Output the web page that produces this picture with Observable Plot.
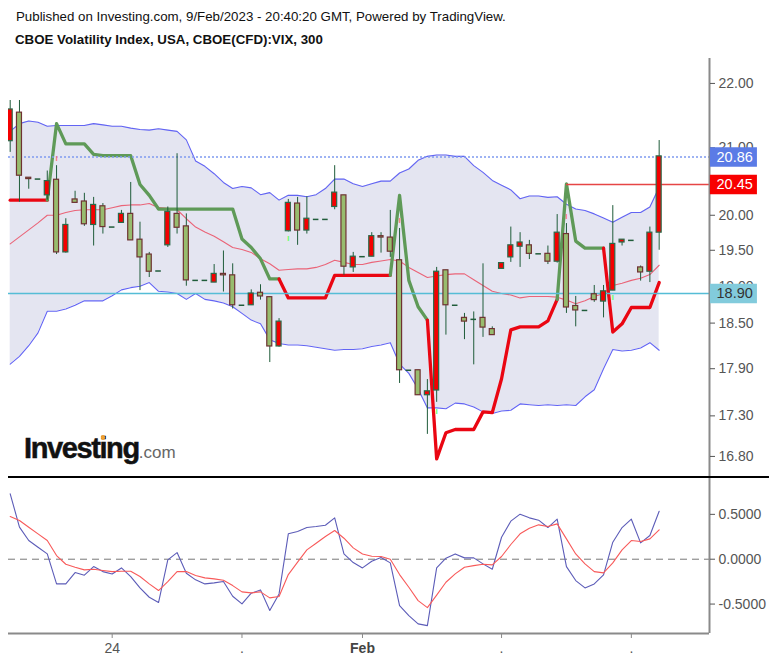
<!DOCTYPE html>
<html><head><meta charset="utf-8">
<script src="https://cdn.jsdelivr.net/npm/d3@7"></script>
<script src="https://cdn.jsdelivr.net/npm/@observablehq/plot@0.6"></script>
<style>
html,body{margin:0;padding:0;background:#fff;overflow:hidden;width:776px;height:662px;font-family:"Liberation Sans",Arial,sans-serif}
#page{position:relative;width:776px;height:662px}
#h1,#h2{position:absolute;left:16px;white-space:nowrap;color:#111}
#h1{top:9px;font-size:13.3px}
#h2{top:32px;left:15px;font-size:13.3px;font-weight:bold}
#main,#osc{position:absolute;left:0}
#main{top:58px}#osc{top:470px}
#logo{position:absolute;left:24px;top:430px;white-space:nowrap;line-height:36px;color:#111}
#logo b{font-size:29px;letter-spacing:-1.4px;-webkit-text-stroke:.5px #111}
#logo span{font-size:17px;color:#666;margin-left:0}
#tittle{position:absolute;left:101px;top:435px;width:4px;height:5px;background:#f0a030;border-radius:2px}
svg{display:block}
</style></head><body>
<div id="page">
<div id="h1">Published on Investing.com, 9/Feb/2023 - 20:40:20 GMT, Powered by TradingView.</div>
<div id="h2">CBOE Volatility Index, USA, CBOE(CFD):VIX, 300</div>
<div id="main"></div><div id="osc"></div>
<div id="logo"><b>Investing</b><span>.com</span></div><div id="tittle"></div>
</div>
<script>
const opens=[21.10,21.54,20.55,20.53,20.29,20.52,19.47,20.23,20.20,19.86,20.13,19.83,19.89,20.02,19.65,19.44,19.21,19.57,20.02,19.84,19.08,19.08,19.05,19.17,19.15,18.74,18.74,18.91,18.85,18.19,19.77,20.17,19.78,19.94,19.94,20.12,20.29,19.26,19.41,19.41,19.70,19.68,19.36,17.88,17.88,17.56,17.62,19.22,18.74,18.57,18.55,18.57,18.42,19.24,19.40,19.55,19.57,19.45,19.45,19.34,19.73,18.73,18.67,18.89,18.79,18.94,19.61,19.64,19.26,19.20,19.75];
const closes=[21.59,20.58,20.53,20.53,20.50,19.47,19.86,20.18,19.87,20.15,19.83,19.83,20.02,19.64,19.40,19.20,19.21,20.05,19.82,19.08,19.08,19.08,19.17,19.15,18.74,18.74,18.90,18.86,18.19,18.52,20.18,19.78,19.95,19.94,19.94,20.33,19.27,19.41,19.41,19.70,19.68,19.48,17.88,17.88,17.56,17.61,19.20,18.74,18.74,18.52,18.55,18.44,18.34,19.32,19.57,19.61,19.45,19.45,19.34,19.75,18.71,18.67,18.67,18.81,18.93,19.59,19.65,19.64,19.19,19.75,20.87];
const highs=[21.73,21.73,20.55,20.53,20.65,20.73,19.95,20.35,20.32,20.26,20.17,19.83,20.07,20.48,19.90,19.47,19.21,20.12,20.91,20.02,19.08,19.08,19.30,19.49,19.31,18.74,18.95,19.02,18.85,18.56,20.23,20.26,20.27,19.94,19.94,20.73,20.29,19.47,19.41,19.75,19.75,20.07,19.81,17.88,17.88,17.76,19.26,19.22,18.74,18.63,18.65,19.31,18.45,19.32,19.83,19.75,19.64,19.45,19.56,20.01,19.88,18.86,18.67,19.01,19.01,20.14,19.65,19.64,19.28,19.83,21.11];
const lows=[20.93,20.19,20.38,20.53,20.22,19.44,19.46,20.18,19.84,19.56,19.73,19.83,19.89,19.64,18.94,19.12,19.21,19.54,19.73,19.00,19.08,19.08,19.05,18.92,18.69,18.74,18.74,18.81,17.98,18.18,19.76,19.57,19.73,19.94,19.94,20.08,19.15,19.19,19.41,19.41,19.46,19.40,17.71,17.88,17.56,17.07,17.47,18.34,18.74,18.28,17.95,18.31,18.34,19.24,19.33,19.26,19.37,19.45,19.30,19.32,18.63,18.45,18.67,18.78,18.57,18.94,19.56,19.64,19.07,19.05,19.50];
const bandUpper=[21.25,21.37,21.41,21.39,21.33,21.34,21.34,21.34,21.34,21.37,21.35,21.33,21.33,21.30,21.28,21.27,21.29,21.27,21.25,21.12,20.80,20.72,20.61,20.48,20.39,20.42,20.40,20.30,20.33,20.22,20.29,20.29,20.27,20.30,20.39,20.53,20.53,20.46,20.42,20.46,20.50,20.50,20.62,20.68,20.81,20.87,20.89,20.89,20.87,20.87,20.73,20.63,20.51,20.44,20.37,20.24,20.28,20.28,20.26,20.27,20.16,20.09,20.07,20.02,19.96,19.90,19.97,20.04,20.04,20.12,20.41];
const bandBasis=[19.59,19.69,19.79,19.89,20.00,20.00,20.04,20.07,20.08,20.08,20.08,20.11,20.14,20.15,20.15,20.17,20.11,20.10,20.08,19.95,19.83,19.76,19.70,19.62,19.54,19.51,19.47,19.38,19.31,19.22,19.23,19.24,19.24,19.26,19.30,19.36,19.33,19.30,19.30,19.33,19.35,19.37,19.35,19.26,19.19,19.12,19.14,19.16,19.17,19.17,19.09,19.01,18.93,18.90,18.88,18.84,18.86,18.86,18.86,18.85,18.81,18.76,18.80,18.86,18.90,19.01,19.04,19.08,19.11,19.16,19.29];
const bandLower=[17.96,18.06,18.20,18.37,18.66,18.66,18.69,18.74,18.80,18.80,18.80,18.87,18.95,18.98,19.00,19.05,18.93,18.92,18.90,18.82,18.90,18.82,18.80,18.77,18.72,18.63,18.54,18.49,18.28,18.23,18.21,18.21,18.20,18.18,18.16,18.14,18.15,18.15,18.16,18.19,18.21,18.24,17.96,17.84,17.64,17.40,17.40,17.39,17.46,17.45,17.41,17.35,17.33,17.36,17.37,17.45,17.44,17.43,17.44,17.43,17.44,17.43,17.54,17.63,17.90,18.15,18.13,18.14,18.17,18.24,18.14];
const trend=[20.22,20.22,20.22,20.22,20.22,21.37,21.06,21.06,21.06,20.90,20.88,20.88,20.88,20.88,20.45,20.29,20.09,20.09,20.09,20.09,20.09,20.09,20.09,20.09,20.09,19.66,19.54,19.38,19.10,19.10,18.84,18.84,18.84,18.84,18.84,19.15,19.15,19.15,19.15,19.15,19.15,19.15,20.29,19.08,18.72,18.54,16.77,17.09,17.13,17.13,17.13,17.35,17.34,17.77,18.41,18.45,18.45,18.45,18.53,18.82,20.46,19.63,19.53,19.53,19.53,18.38,18.49,18.71,18.71,18.71,19.05];
const trendRuns=[[0,"#ea0612"],[4,"#5f9a58"],[29,"#ea0612"],[41,"#5f9a58"],[45,"#ea0612"],[59,"#5f9a58"],[64,"#ea0612"]];
const oscFast=[.729,.357,.208,.134,.059,-.275,-.275,-.149,-.178,-.082,-.138,-.164,-.097,-.193,-.320,-.424,-.483,-.007,.074,-.156,-.230,-.275,-.264,-.249,-.413,-.498,-.379,-.342,-.572,-.387,.283,.309,.353,.364,.379,.461,.059,-.037,-.097,-.022,.019,-.041,-.517,-.628,-.721,-.740,-.097,.011,.059,.015,.015,-.052,-.112,.245,.424,.502,.461,.435,.353,.446,-.082,-.238,-.320,-.275,-.175,.190,.353,.446,.182,.264,.535];
const oscSlow=[.476,.431,.357,.283,.208,.041,-.056,-.089,-.119,-.112,-.126,-.138,-.134,-.134,-.193,-.275,-.349,-.249,-.138,-.138,-.182,-.208,-.219,-.234,-.294,-.364,-.375,-.364,-.431,-.416,-.171,-.033,.104,.178,.253,.320,.234,.126,.059,.033,.030,0,-.171,-.312,-.461,-.539,-.401,-.257,-.164,-.089,-.071,-.056,-.063,.030,.164,.283,.346,.383,.364,.394,.227,.059,-.052,-.138,-.152,-.041,.104,.208,.197,.227,.327];
const markerIdx=[5,30,42,46,60,65];
const markerPrice=[20.84,19.67,19.92,17.36,19.99,18.84];
const markerColor=["#f77","#6f6","#f77","#6f6","#f77","#6f6"];
const priceTicks=[22,21,20,19.5,19,18.5,17.9,17.3,16.8];
const oscTicks=[0.5,0,-0.5];
const levelValues=[20.86,20.45,18.90];
const levelBox=["#5b7be6","#f80000","#82cbdc"];
const levelText=["#fff","#fff","#333"];
const levelLine=["#7f9bf0","#e64545","#55bdd6"];
const levelFrom=[-0.183,60,-0.183];
const dashes=["2,2","","" ];
const xTickIdx=[11,25,38,53,67];
const xTickText=["24",".","Feb",".","."];

const idx=d3.range(opens.length);
const X0=-0.183,X1=75.43,XBOX=80.6,XEND=81.9;
const candles=idx.map(i=>({i,o:opens[i],c:closes[i],h:highs[i],l:lows[i]}));
const up=d=>d.c>d.o;
const bodies=candles.filter(d=>d.o!==d.c),flat=candles.filter(d=>d.o===d.c);
const runColor=i=>{let c=trendRuns[0][1];for(const [s,k] of trendRuns) if(i>=s) c=k;return c;};
const xs={type:"linear",domain:[X0,X1],range:[8,709]};
const font={fontFamily:"Liberation Sans, Arial, sans-serif",fontSize:"14px",background:"transparent",overflow:"visible"};
const axisCol="#555",lineCol="#8a8a8a";
const levels=levelValues.map((v,k)=>({v,k}));
const markers=markerIdx.map((i,k)=>({i,p:markerPrice[k],col:markerColor[k]}));

const main=Plot.plot({width:776,height:418,marginLeft:8,marginRight:67,marginTop:0,marginBottom:0,
 style:font,x:{...xs,axis:null},
 y:{type:"log",domain:[16.558,22.40],range:[418,0]},
 color:{type:"identity"},
 marks:[
  Plot.areaY(idx,{x:i=>i,y1:i=>bandLower[i],y2:i=>bandUpper[i],fill:"#e4e5f1"}),
  Plot.line(idx,{x:i=>i,y:i=>bandUpper[i],stroke:"#6264f4",strokeWidth:1.1}),
  Plot.line(idx,{x:i=>i,y:i=>bandLower[i],stroke:"#6264f4",strokeWidth:1.1}),
  Plot.line(idx,{x:i=>i,y:i=>bandBasis[i],stroke:"#ea6478",strokeWidth:1.1}),
  Plot.line(idx,{x:i=>i,y:i=>trend[i],z:null,stroke:i=>runColor(i),strokeWidth:3.3,strokeLinejoin:"round"}),
  ...levels.map(d=>Plot.ruleY([d.v],{x1:levelFrom[d.k],x2:X1,stroke:levelLine[d.k],strokeWidth:d.k==0?1.4:1.5,strokeDasharray:dashes[d.k]||null})),
  Plot.ruleX(candles,{x:"i",y1:"l",y2:"h",stroke:"#1f5c3a",strokeWidth:1}),
  Plot.rect(bodies,{x1:d=>d.i-.27,x2:d=>d.i+.27,y1:"o",y2:"c",clip:true,fill:d=>up(d)?"#f40000":"#98bc6e",stroke:d=>up(d)?"#2a6a4a":"#6e3232",strokeWidth:1.2}),
  Plot.ruleY(flat,{x1:d=>d.i-.3,x2:d=>d.i+.3,y:"o",stroke:"#1f5c3a",strokeWidth:1.5}),
  Plot.text(markers,{x:"i",y:"p",text:()=>"I",fill:"col",fontSize:8,fontWeight:"bold"}),
  Plot.ruleX([X1],{stroke:lineCol,strokeWidth:2}),
  Plot.axisY({anchor:"right",ticks:priceTicks,tickFormat:d=>d.toFixed(2),tickSize:5,tickPadding:4,label:null,color:axisCol,fontSize:14}),
  Plot.ruleY(levels,{x1:X1+0.1,x2:XBOX,y:"v",stroke:d=>levelBox[d.k],strokeWidth:19.3}),
  Plot.text(levels,{x:77.5,y:"v",dx:6,text:d=>d.v.toFixed(2),fill:d=>levelText[d.k],fontSize:14.5})
 ]});
document.getElementById("main").append(main);

const tickRows=xTickIdx.map((i,k)=>({i,t:xTickText[k]}));
const osc=Plot.plot({width:776,height:192,marginLeft:8,marginRight:67,marginTop:8,marginBottom:29,
 style:font,x:xs,
 y:{type:"linear",domain:[-0.828,0.8997],range:[163,8]},
 marks:[
  Plot.ruleY([0],{x1:X0,x2:X1,stroke:"#777",strokeWidth:1,strokeDasharray:"7,5"}),
  Plot.line(idx,{x:i=>i,y:i=>oscFast[i],stroke:"#5c5cb8",strokeWidth:1.1}),
  Plot.line(idx,{x:i=>i,y:i=>oscSlow[i],stroke:"#f85a5a",strokeWidth:1.1}),
  Plot.ruleY([-0.828],{x1:X0,x2:X1,stroke:lineCol,strokeWidth:2}),
  Plot.ruleX([X1],{y1:-0.828,y2:0.916,stroke:lineCol,strokeWidth:2}),
  Plot.ruleY([0.916],{x1:X0,x2:XEND,stroke:"#000",strokeWidth:2}),
  Plot.axisY({anchor:"right",ticks:oscTicks,tickFormat:d=>d.toFixed(4),tickSize:5,tickPadding:4,label:null,color:axisCol,fontSize:14}),
  Plot.axisX({anchor:"bottom",ticks:xTickIdx,tickSize:5,fill:"none",stroke:lineCol,label:null}),
  Plot.text(tickRows.filter(d=>d.t!=="Feb"),{x:"i",y:-0.828,dy:15,text:"t",fill:axisCol,fontSize:14}),
  Plot.text(tickRows.filter(d=>d.t==="Feb"),{x:"i",y:-0.828,dy:15,text:"t",fill:"#444",fontSize:14,fontWeight:"bold"})
 ]});
document.getElementById("osc").append(osc);
</script></body></html>
